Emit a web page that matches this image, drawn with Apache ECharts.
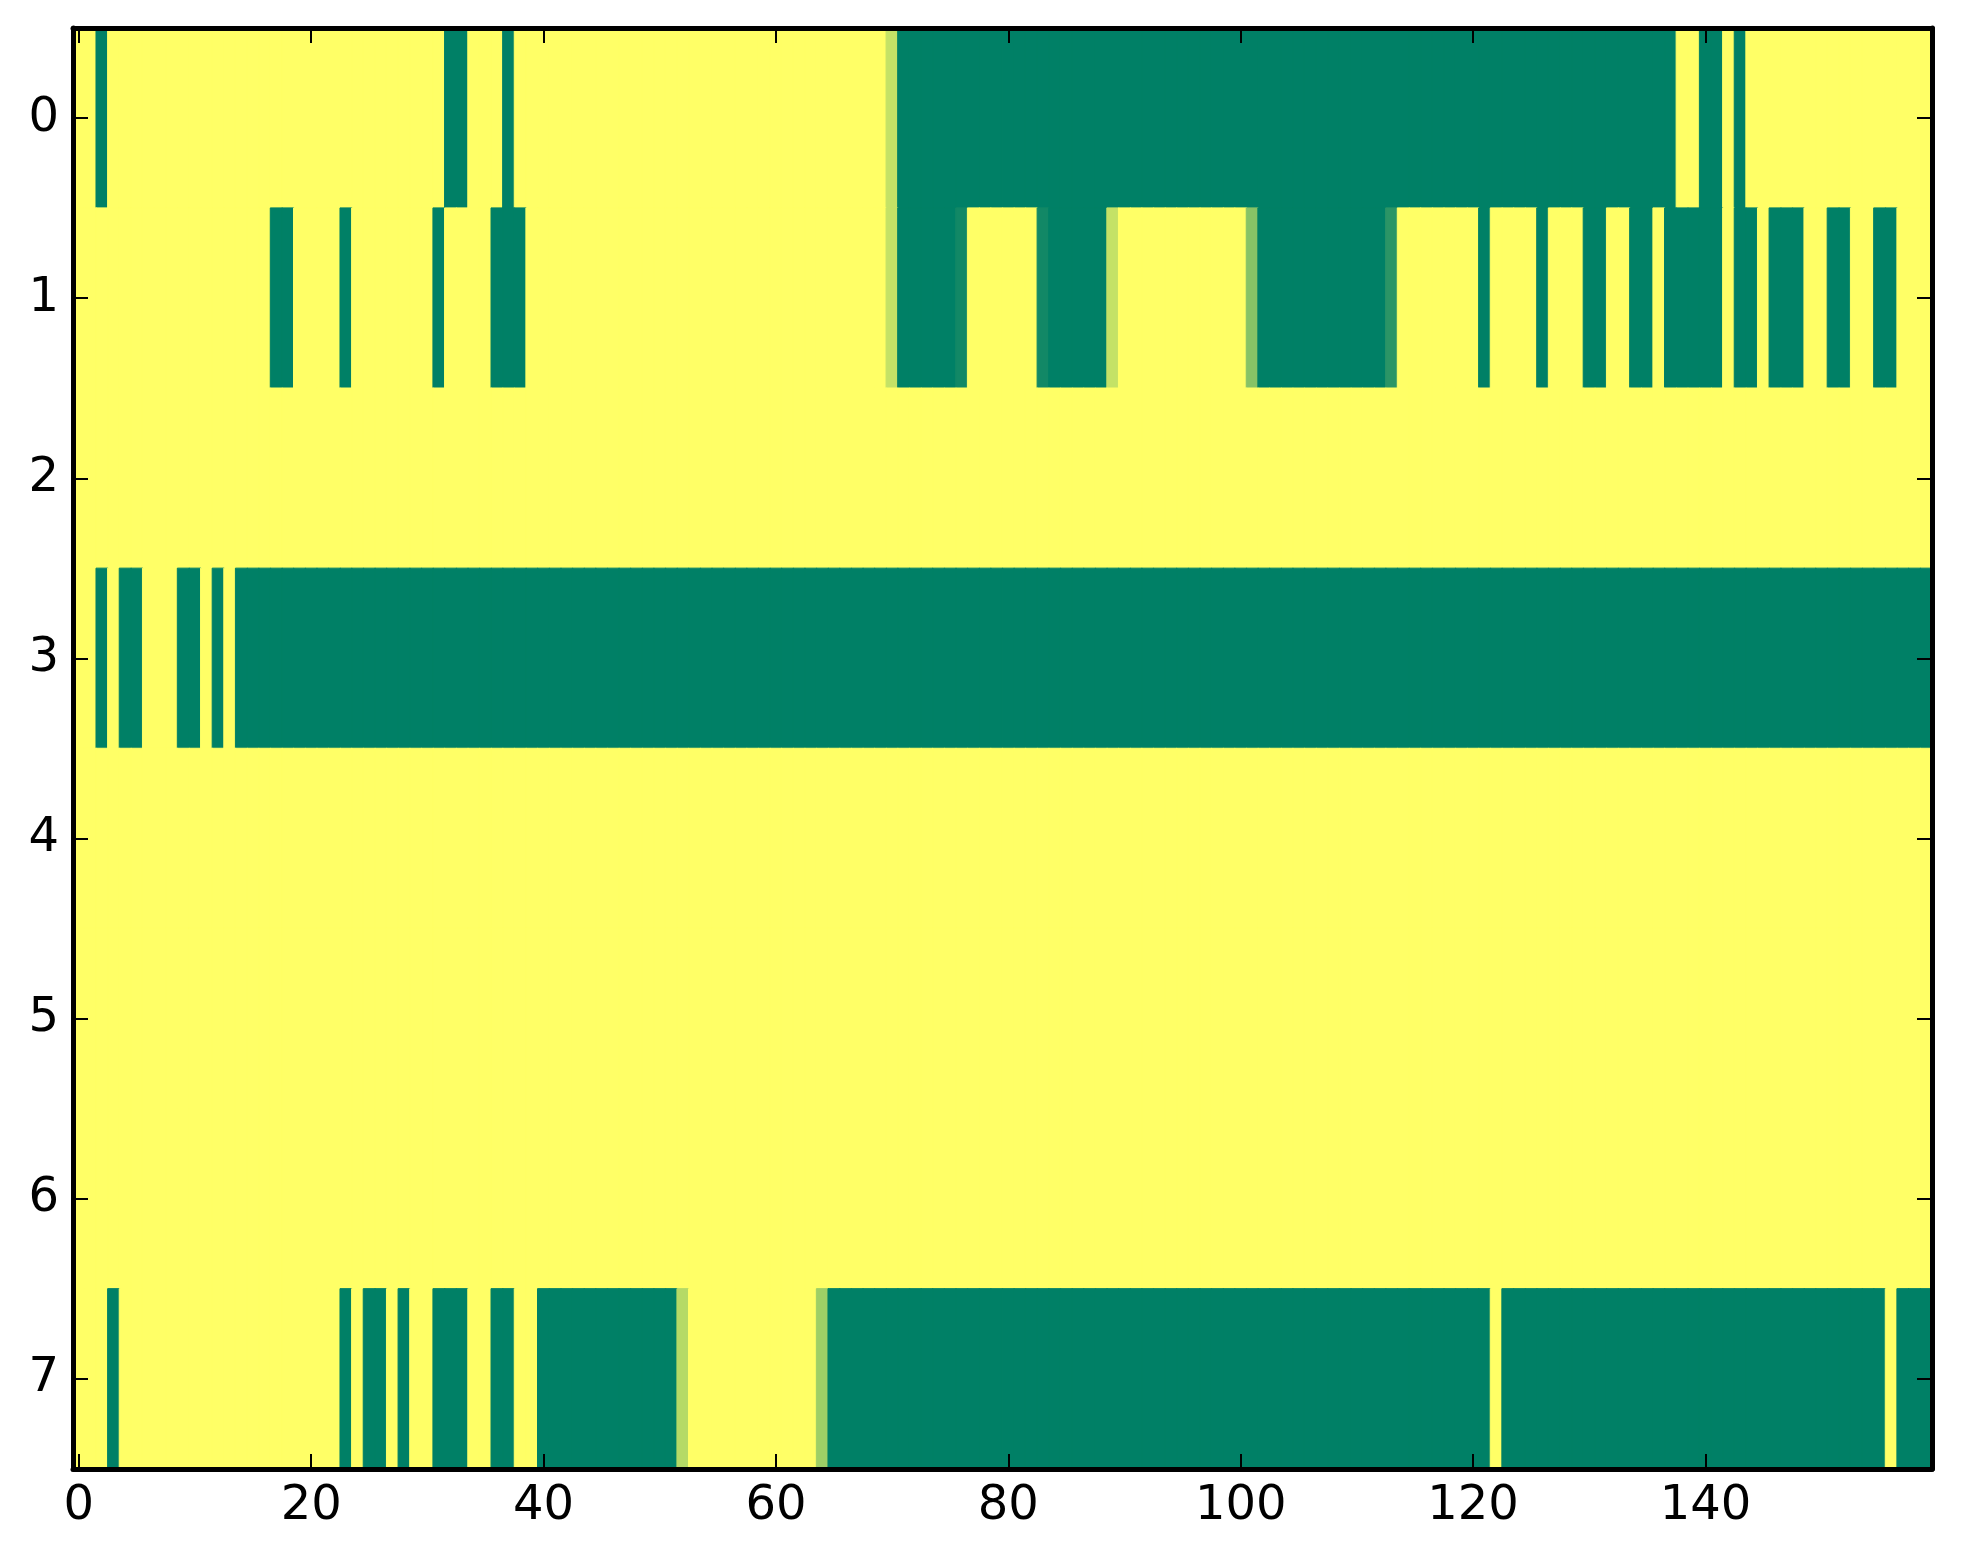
<!DOCTYPE html>
<html>
<head>
<meta charset="utf-8">
<script src="https://cdn.jsdelivr.net/npm/echarts@6/dist/echarts.min.js"></script>
<style>
html,body{margin:0;padding:0;background:#ffffff;}
#chart{width:1963px;height:1564px;}
</style>
</head>
<body>
<div id="chart"></div>
<script>
// ---- data ----
const nCols = 160;
const rowLabels = ['0', '1', '2', '3', '4', '5', '6', '7'];
const xTickLabels = ['0', '20', '40', '60', '80', '100', '120', '140'];
const baseValue = 1; // yellow cells
// runs: [firstColumn, lastColumn, value]
const row0Runs = [[2,2,0],[32,33,0],[37,37,0],[70,70,0.77],[71,137,0],[140,141,0],[143,143,0]];
const row1Runs = [[17,18,0],[23,23,0],[31,31,0],[36,38,0],[70,70,0.77],[71,75,0],[76,76,0.07],
                  [83,83,0.07],[84,88,0],[89,89,0.77],[101,101,0.53],[102,112,0],[113,113,0.17],
                  [121,121,0],[126,126,0],[130,131,0],[134,135,0],[137,141,0],[143,144,0],
                  [146,148,0],[151,152,0],[155,156,0]];
const row2Runs = [];
const row3Runs = [[2,2,0],[4,5,0],[9,10,0],[12,12,0],[14,159,0]];
const row4Runs = [];
const row5Runs = [];
const row6Runs = [];
const row7Runs = [[3,3,0],[23,23,0],[25,26,0],[28,28,0],[31,33,0],[36,37,0],[40,51,0],[52,52,0.71],
                  [64,64,0.62],[65,121,0],[123,155,0],[157,159,0]];
const allRuns = [row0Runs,row1Runs,row2Runs,row3Runs,row4Runs,row5Runs,row6Runs,row7Runs];

// matplotlib "summer" colormap: (v, 0.5 + 0.5 v, 0.4)
function summer(v) {
  const r = Math.round(255 * v), g = Math.round(255 * (0.5 + 0.5 * v)), b = Math.round(255 * 0.4);
  return 'rgb(' + r + ',' + g + ',' + b + ')';
}

// ---- build grid ----
const colCategories = [];
for (let c = 0; c < nCols; c++) colCategories.push(String(c));
const cells = [];
allRuns.forEach((runs, r) => {
  const vals = new Array(nCols).fill(baseValue);
  runs.forEach(([a, b, v]) => { for (let c = a; c <= b; c++) vals[c] = v; });
  vals.forEach((v, c) => cells.push({
    value: [c, r, v],
    itemStyle: {color: summer(v), borderColor: summer(v), borderWidth: 1}
  }));
});

const isTick = (idx) => xTickLabels.indexOf(String(idx)) >= 0;
const font = 'DejaVu Sans';
const lineStyle = {color: '#000', width: 5};
const tickStyle = {color: '#000', width: 2};

const chart = echarts.init(document.getElementById('chart'));
chart.setOption({
  backgroundColor: '#ffffff',
  animation: false,
  grid: {left: 73, right: 31, top: 28, bottom: 95},
  xAxis: [{
    type: 'category', data: colCategories, position: 'bottom', zlevel: 1, z: 10,
    axisLine: {show: true, lineStyle: lineStyle},
    axisTick: {show: true, inside: true, length: 15, alignWithLabel: true, interval: isTick, lineStyle: tickStyle},
    axisLabel: {show: true, interval: isTick, margin: 14, color: '#000', fontSize: 48, fontFamily: font},
    splitLine: {show: false}
  }, {
    type: 'category', data: colCategories, position: 'top', zlevel: 1, z: 10,
    axisLine: {show: true, lineStyle: lineStyle},
    axisTick: {show: true, inside: true, length: 15, alignWithLabel: true, interval: isTick, lineStyle: tickStyle},
    axisLabel: {show: false},
    splitLine: {show: false}
  }],
  yAxis: [{
    type: 'category', data: rowLabels, inverse: true, position: 'left', zlevel: 1, z: 10,
    axisLine: {show: true, lineStyle: lineStyle},
    axisTick: {show: true, inside: true, length: 15, alignWithLabel: true, interval: 0, lineStyle: tickStyle},
    axisLabel: {show: true, interval: 0, margin: 14, color: '#000', fontSize: 48, fontFamily: font},
    splitLine: {show: false}
  }, {
    type: 'category', data: rowLabels, inverse: true, position: 'right', zlevel: 1, z: 10,
    axisLine: {show: true, lineStyle: lineStyle},
    axisTick: {show: true, inside: true, length: 15, alignWithLabel: true, interval: 0, lineStyle: tickStyle},
    axisLabel: {show: false},
    splitLine: {show: false}
  }],
  series: [{
    type: 'heatmap', xAxisIndex: 0, yAxisIndex: 0, data: cells,
    emphasis: {disabled: true},
    progressive: 0
  }]
});
</script>
</body>
</html>
